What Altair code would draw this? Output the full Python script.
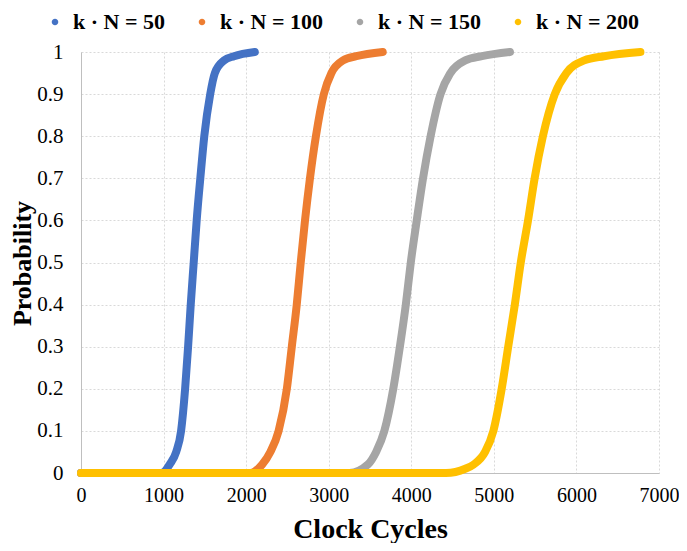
import altair as alt
import pandas as pd

series_names = ["k · N = 50", "k · N = 100", "k · N = 150", "k · N = 200"]
series_colors = ["#4472C4", "#ED7D31", "#A5A5A5", "#FFC000"]

x_50 = [0, 969, 1020, 1073, 1153, 1212, 1261, 1297, 1329, 1365, 1401, 1445, 1493, 1565, 1621, 1733, 1853, 2105]
y_50 = [0, 0, 0.005, 0.02, 0.05, 0.1, 0.2, 0.3, 0.4, 0.5, 0.6, 0.7, 0.8, 0.9, 0.95, 0.98, 0.99, 1.0]

x_100 = [0, 2050, 2193, 2293, 2393, 2493, 2553, 2613, 2661, 2713, 2773, 2845, 2941, 3033, 3174, 3334, 3654]
y_100 = [0, 0, 0.02, 0.05, 0.1, 0.2, 0.3, 0.4, 0.5, 0.6, 0.7, 0.8, 0.9, 0.95, 0.98, 0.99, 1.0]

x_150 = [0, 3250, 3474, 3574, 3674, 3782, 3862, 3934, 3994, 4066, 4142, 4234, 4354, 4474, 4654, 4855, 5195]
y_150 = [0, 0, 0.02, 0.05, 0.1, 0.2, 0.3, 0.4, 0.5, 0.6, 0.7, 0.8, 0.9, 0.95, 0.98, 0.99, 1.0]

x_200 = [0, 4420, 4654, 4754, 4894, 4994, 5095, 5174, 5254, 5326, 5414, 5494, 5594, 5738, 5878, 6095, 6335, 6775]
y_200 = [0, 0, 0.01, 0.02, 0.05, 0.1, 0.2, 0.3, 0.4, 0.5, 0.6, 0.7, 0.8, 0.9, 0.95, 0.98, 0.99, 1.0]

x_ticks = [0, 1000, 2000, 3000, 4000, 5000, 6000, 7000]
y_ticks = [0, 0.1, 0.2, 0.3, 0.4, 0.5, 0.6, 0.7, 0.8, 0.9, 1.0]

rows = []
for name, xs, ys in zip(series_names, [x_50, x_100, x_150, x_200], [y_50, y_100, y_150, y_200]):
    for xv, yv in zip(xs, ys):
        rows.append({"series": name, "cycles": xv, "prob": yv})
df = pd.DataFrame(rows)

serif = "Liberation Serif"
grid_color = "#d9d9d9"

x_enc = alt.X(
    "cycles:Q",
    scale=alt.Scale(domain=[0, 7000], nice=False),
    axis=alt.Axis(
        values=x_ticks, format="d", title="Clock Cycles", grid=True, gridDash=[2, 2],
        gridColor=grid_color, domainColor="#bfbfbf", ticks=False, tickSize=0,
        labelFlush=False, labelFont=serif, labelFontSize=20,
        labelColor="#000000", labelPadding=12, titleFont=serif, titleFontSize=28,
        titleFontWeight="bold", titleColor="#000000", titleX=289, titleY=64,
        titleBaseline="alphabetic",
    ),
)
y_enc = alt.Y(
    "prob:Q",
    scale=alt.Scale(domain=[0, 1], nice=False),
    axis=alt.Axis(
        values=y_ticks, format=".1~f", title="Probability", grid=True, gridDash=[2, 2],
        gridColor=grid_color, domainColor="#bfbfbf", ticks=False, tickSize=0,
        labelFlush=False, labelFont=serif, labelFontSize=21, labelColor="#000000",
        labelPadding=18, titleFont=serif, titleFontSize=26, titleFontWeight="bold",
        titleColor="#000000", titleX=-59, titleY=211, titleAngle=270,
        titleBaseline="middle",
    ),
)
color_enc = alt.Color(
    "series:N",
    scale=alt.Scale(domain=series_names, range=series_colors),
    legend=alt.Legend(
        title=None, orient="none", legendX=-37, legendY=-41, direction="horizontal",
        labelFont=serif, labelFontSize=22, labelFontWeight="bold", labelColor="#000000",
        symbolType="circle", symbolSize=10, symbolStrokeWidth=3.4, labelOffset=7,
        columnPadding=26, gridAlign="each", padding=0,
    ),
)

layers = []
for name in series_names:
    layers.append(
        alt.Chart(df)
        .transform_filter(alt.datum.series == name)
        .mark_line(strokeWidth=8, strokeCap="round", interpolate="monotone")
        .encode(x=x_enc, y=y_enc, color=color_enc)
    )

chart = (
    alt.layer(*layers)
    .properties(
        width=578, height=421,
        autosize=alt.AutoSizeParams(type="none"),
        padding={"left": 73, "top": 44, "right": 20, "bottom": 70},
        background="white",
    )
    .configure_view(strokeWidth=0)
)

chart.save("out.html", embed_options={"renderer": "svg", "actions": False})
